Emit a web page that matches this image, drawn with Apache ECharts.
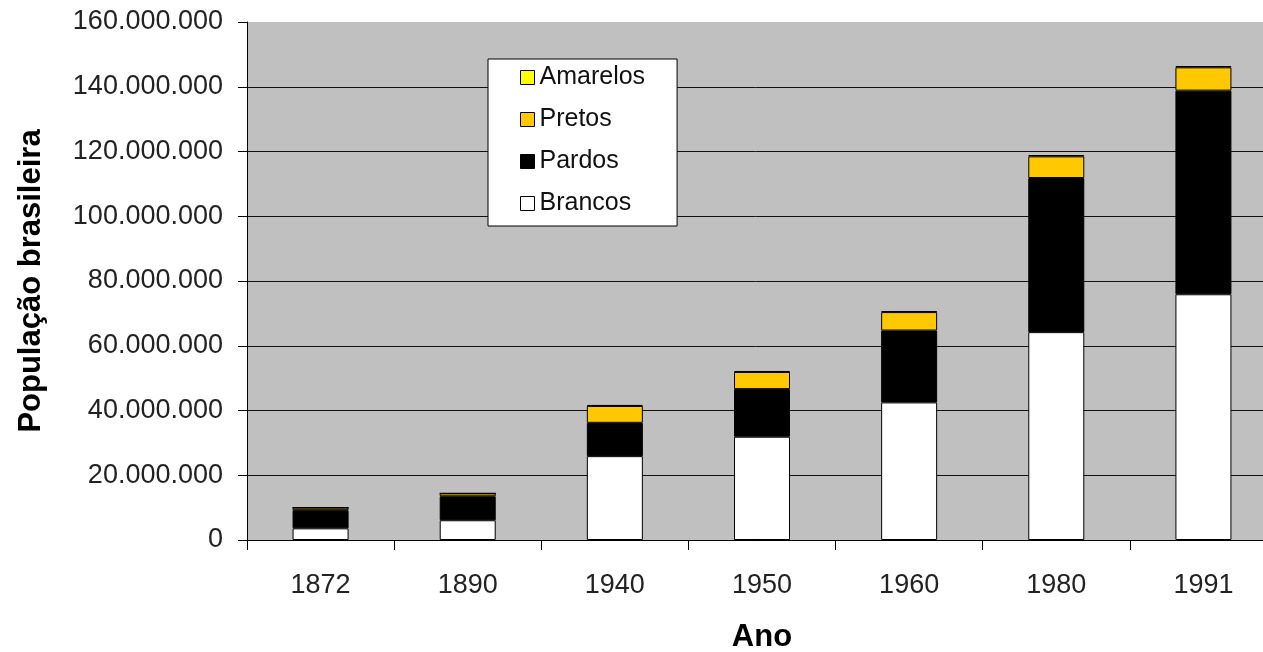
<!DOCTYPE html>
<html>
<head>
<meta charset="utf-8">
<script src="https://cdn.jsdelivr.net/npm/echarts@6/dist/echarts.min.js"></script>
<style>
html,body{margin:0;padding:0;background:#fff;overflow:hidden;}
#chart{width:1263px;height:652px;}
</style>
</head>
<body>
<div id="chart"></div>
<script>
const categories = ['1872', '1890', '1940', '1950', '1960', '1980', '1991'];
const brancos  = [3600000, 6100000, 25900000, 31900000, 42500000, 64200000, 75900000];
const pardos   = [5600000, 7400000, 10300000, 14700000, 22200000, 47600000, 62900000];
const pretos   = [800000, 900000, 5200000, 5300000, 5700000, 6700000, 7200000];
const amarelos = [0, 0, 300000, 300000, 300000, 400000, 400000];
const yTicks = [0, 20000000, 40000000, 60000000, 80000000, 100000000, 120000000, 140000000, 160000000];

const FONT = '"Liberation Sans", Arial, sans-serif';
function fmt(v) {
  return String(Math.round(v)).replace(/\B(?=(\d{3})+(?!\d))/g, '.');
}

const chart = echarts.init(document.getElementById('chart'), null, {renderer: 'canvas'});
const barStyle = (color) => ({color: color, borderColor: '#000', borderWidth: 1});

chart.setOption({
  animation: false,
  backgroundColor: '#fff',
  grid: {
    left: 247, top: 22, right: -14, height: 518,
    outerBoundsMode: 'none',
    containLabel: false,
    show: true, backgroundColor: '#C0C0C0', borderWidth: 0
  },
  legend: {
    orient: 'vertical',
    left: 488, top: 59,
    data: ['Amarelos', 'Pretos', 'Pardos', 'Brancos'],
    backgroundColor: '#fff',
    borderColor: '#000',
    borderWidth: 1,
    padding: [6, 32, 10, 32],
    itemGap: 17,
    itemWidth: 14, itemHeight: 14,
    icon: 'rect',
    itemStyle: {borderColor: '#000', borderWidth: 1},
    textStyle: {fontFamily: FONT, fontSize: 25, color: '#111'}
  },
  xAxis: {
    type: 'category',
    data: categories,
    name: 'Ano',
    nameLocation: 'middle',
    nameGap: 82,
    nameTextStyle: {fontFamily: FONT, fontSize: 31, fontWeight: 'bold', color: '#000'},
    axisLine: {lineStyle: {color: '#000', width: 1}},
    axisTick: {show: true, length: 10, lineStyle: {color: '#000'}},
    axisLabel: {fontFamily: FONT, fontSize: 27, color: '#222', margin: 32},
    splitLine: {show: false}
  },
  yAxis: {
    type: 'value',
    min: 0, max: 160000000, interval: 20000000,
    name: 'População brasileira',
    nameLocation: 'middle',
    nameGap: 200,
    nameTextStyle: {fontFamily: FONT, fontSize: 31, fontWeight: 'bold', color: '#000'},
    axisLine: {show: true, lineStyle: {color: '#000', width: 1}},
    axisTick: {show: true, length: 9, lineStyle: {color: '#000'}},
    axisLabel: {
      fontFamily: FONT, fontSize: 27, color: '#222', margin: 24,
      formatter: (v) => fmt(v),
      customValues: yTicks
    },
    splitLine: {show: true, showMaxLine: false, lineStyle: {color: '#111', width: 1}}
  },
  series: [
    {name: 'Brancos', type: 'bar', stack: 'pop', data: brancos, barWidth: 56, itemStyle: barStyle('#FFFFFF')},
    {name: 'Pardos', type: 'bar', stack: 'pop', data: pardos, barWidth: 56, itemStyle: barStyle('#000000')},
    {name: 'Pretos', type: 'bar', stack: 'pop', data: pretos, barWidth: 56, itemStyle: barStyle('#FFC800')},
    {name: 'Amarelos', type: 'bar', stack: 'pop', data: amarelos, barWidth: 56, itemStyle: barStyle('#FFFF00')}
  ]
});
</script>
</body>
</html>
